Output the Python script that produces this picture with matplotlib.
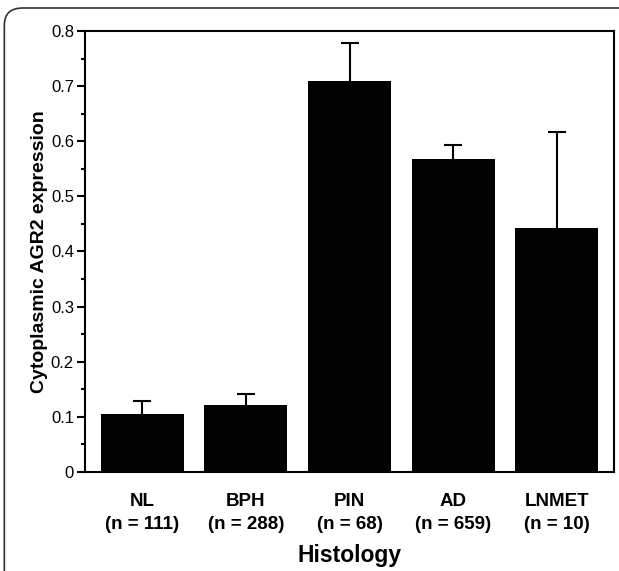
import matplotlib.pyplot as plt
from matplotlib.patches import FancyBboxPatch
from matplotlib.ticker import MultipleLocator, FuncFormatter

plt.rcParams['font.family'] = ['Liberation Sans', 'DejaVu Sans']

groups = ["NL", "BPH", "PIN", "AD", "LNMET"]
counts = [111, 288, 68, 659, 10]
means = [0.105, 0.122, 0.709, 0.567, 0.442]
errs = [0.024, 0.020, 0.069, 0.027, 0.174]

fig = plt.figure(figsize=(6.19, 5.71), dpi=100)

# outer frame of the figure panel
frame = FancyBboxPatch((0.007, -0.1), 1.2, 1.086, boxstyle="round,pad=0,rounding_size=0.03",
                       transform=fig.transFigure, fill=False, edgecolor="#333333", linewidth=1.2)
fig.patches.append(frame)

ax = fig.add_axes([0.1373, 0.1734, 0.8547, 0.7723])

x = list(range(len(groups)))
ax.bar(x, means, width=0.8, color="black")
eb = ax.errorbar(x, means, yerr=[[0] * len(errs), errs], fmt="none", ecolor="black",
                 elinewidth=1.5, capsize=6.5, capthick=1.5)
eb[1][0].set_visible(False)  # no lower caps

ax.set_xlim(-0.55, 4.55)
ax.set_ylim(0, 0.8)
ax.yaxis.set_major_locator(MultipleLocator(0.1))
ax.yaxis.set_minor_locator(MultipleLocator(0.05))
ax.yaxis.set_major_formatter(FuncFormatter(lambda v, p: "0" if abs(v) < 1e-9 else f"{v:.1f}"))
ax.tick_params(axis="y", which="major", length=6, width=1.5, labelsize=12, pad=2)
ax.tick_params(axis="y", which="minor", length=3, width=1.5)

ax.set_xticks(x)
ax.set_xticklabels([f"{g}\n(n = {n})" for g, n in zip(groups, counts)],
                   fontsize=13.5, fontweight="bold", linespacing=1.45)
ax.tick_params(axis="x", length=0, pad=15)

for s in ax.spines.values():
    s.set_linewidth(1.5)

ax.set_ylabel("Cytoplasmic AGR2 expression", fontsize=14, fontweight="bold", labelpad=2)
ax.set_xlabel("Histology", fontsize=16.5, fontweight="bold", labelpad=8)

fig.savefig("out.png", dpi=100)
